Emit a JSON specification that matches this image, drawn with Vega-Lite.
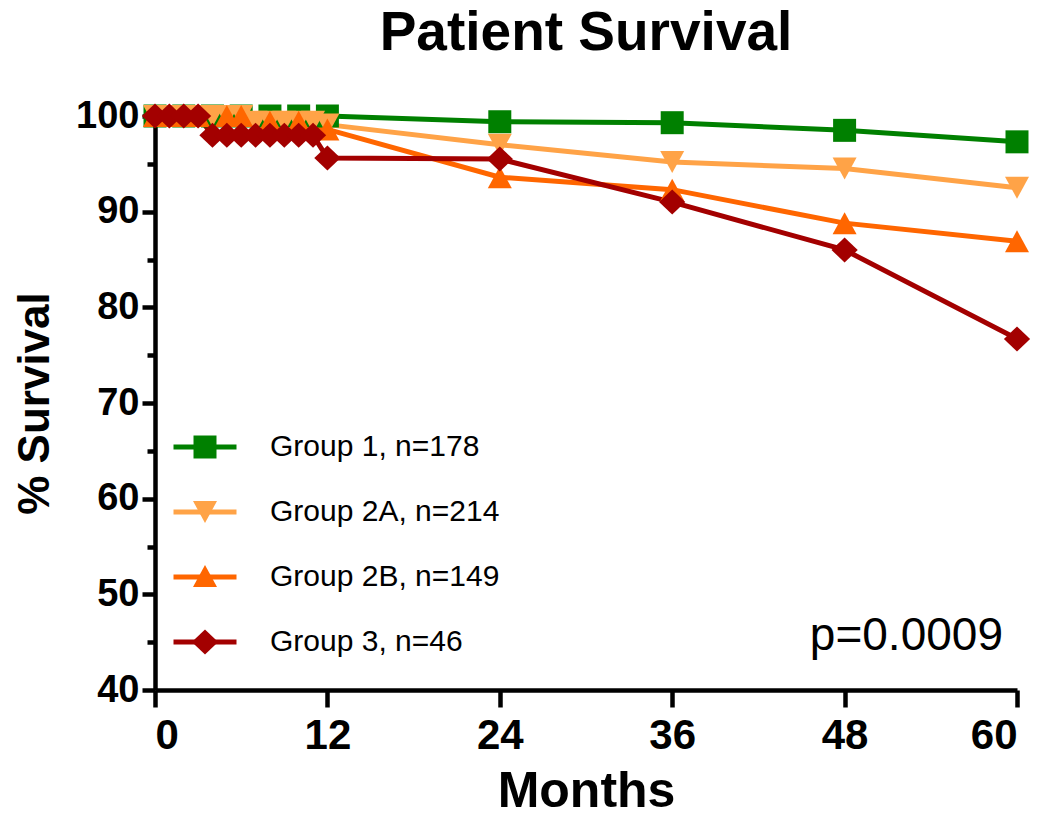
{
  "$schema": "https://vega.github.io/schema/vega-lite/v6.json",
  "width": 862,
  "height": 574,
  "autosize": "none",
  "padding": {"left": 155, "top": 116, "right": 33, "bottom": 129},
  "background": "white",
  "config": {"view": {"stroke": null}, "font": "Liberation Sans"},
  "title": {"text": "Patient Survival", "fontSize": 55, "fontWeight": "bold", "font": "Liberation Sans", "color": "black", "anchor": "middle", "frame": "group", "offset": 35},
  "data": {"values": [
    {"group": "Group 1, n=178", "month": 0, "surv": 100},
    {"group": "Group 1, n=178", "month": 2, "surv": 100},
    {"group": "Group 1, n=178", "month": 4, "surv": 100},
    {"group": "Group 1, n=178", "month": 6, "surv": 100},
    {"group": "Group 1, n=178", "month": 8, "surv": 100},
    {"group": "Group 1, n=178", "month": 10, "surv": 100},
    {"group": "Group 1, n=178", "month": 12, "surv": 100},
    {"group": "Group 1, n=178", "month": 24, "surv": 99.4},
    {"group": "Group 1, n=178", "month": 36, "surv": 99.3},
    {"group": "Group 1, n=178", "month": 48, "surv": 98.5},
    {"group": "Group 1, n=178", "month": 60, "surv": 97.3},
    {"group": "Group 2A, n=214", "month": 0, "surv": 100},
    {"group": "Group 2A, n=214", "month": 1, "surv": 100},
    {"group": "Group 2A, n=214", "month": 2, "surv": 100},
    {"group": "Group 2A, n=214", "month": 3, "surv": 100},
    {"group": "Group 2A, n=214", "month": 4, "surv": 100},
    {"group": "Group 2A, n=214", "month": 5, "surv": 100},
    {"group": "Group 2A, n=214", "month": 6, "surv": 100},
    {"group": "Group 2A, n=214", "month": 7, "surv": 99.4},
    {"group": "Group 2A, n=214", "month": 8, "surv": 99.4},
    {"group": "Group 2A, n=214", "month": 9, "surv": 99.4},
    {"group": "Group 2A, n=214", "month": 10, "surv": 99.4},
    {"group": "Group 2A, n=214", "month": 11, "surv": 99.4},
    {"group": "Group 2A, n=214", "month": 12, "surv": 99.1},
    {"group": "Group 2A, n=214", "month": 24, "surv": 97.0},
    {"group": "Group 2A, n=214", "month": 36, "surv": 95.2},
    {"group": "Group 2A, n=214", "month": 48, "surv": 94.5},
    {"group": "Group 2A, n=214", "month": 60, "surv": 92.5},
    {"group": "Group 2B, n=149", "month": 0, "surv": 100},
    {"group": "Group 2B, n=149", "month": 1, "surv": 100},
    {"group": "Group 2B, n=149", "month": 2, "surv": 100},
    {"group": "Group 2B, n=149", "month": 3, "surv": 100},
    {"group": "Group 2B, n=149", "month": 5, "surv": 100},
    {"group": "Group 2B, n=149", "month": 6, "surv": 100},
    {"group": "Group 2B, n=149", "month": 8, "surv": 99.4},
    {"group": "Group 2B, n=149", "month": 10, "surv": 99.4},
    {"group": "Group 2B, n=149", "month": 12, "surv": 98.6},
    {"group": "Group 2B, n=149", "month": 24, "surv": 93.6},
    {"group": "Group 2B, n=149", "month": 36, "surv": 92.3},
    {"group": "Group 2B, n=149", "month": 48, "surv": 88.8},
    {"group": "Group 2B, n=149", "month": 60, "surv": 86.9},
    {"group": "Group 3, n=46", "month": 0, "surv": 100},
    {"group": "Group 3, n=46", "month": 1, "surv": 100},
    {"group": "Group 3, n=46", "month": 2, "surv": 100},
    {"group": "Group 3, n=46", "month": 3, "surv": 100},
    {"group": "Group 3, n=46", "month": 4, "surv": 98.0},
    {"group": "Group 3, n=46", "month": 5, "surv": 98.0},
    {"group": "Group 3, n=46", "month": 6, "surv": 98.0},
    {"group": "Group 3, n=46", "month": 7, "surv": 98.0},
    {"group": "Group 3, n=46", "month": 8, "surv": 98.0},
    {"group": "Group 3, n=46", "month": 9, "surv": 98.0},
    {"group": "Group 3, n=46", "month": 10, "surv": 98.0},
    {"group": "Group 3, n=46", "month": 11, "surv": 98.0},
    {"group": "Group 3, n=46", "month": 12, "surv": 95.6},
    {"group": "Group 3, n=46", "month": 24, "surv": 95.5},
    {"group": "Group 3, n=46", "month": 36, "surv": 91.0},
    {"group": "Group 3, n=46", "month": 48, "surv": 86.0},
    {"group": "Group 3, n=46", "month": 60, "surv": 76.7}
  ]},
  "layer": [
    {
      "mark": {"type": "line", "strokeWidth": 5},
      "encoding": {
        "x": {"field": "month", "type": "quantitative",
          "scale": {"domain": [0, 60], "nice": false, "zero": false},
          "axis": {"values": [0, 12, 24, 36, 48, 60], "title": "Months", "grid": false,
            "domainColor": "black", "domainWidth": 4.5, "tickColor": "black", "tickWidth": 4.5, "tickSize": 17,
            "labelFont": "Liberation Sans", "labelFontSize": 42, "labelFontWeight": "bold", "labelColor": "black", "labelPadding": 8,
            "titleFont": "Liberation Sans", "titleFontSize": 50, "titleFontWeight": "bold", "titleColor": "black", "titlePadding": 10}},
        "y": {"field": "surv", "type": "quantitative",
          "scale": {"domain": [40, 100], "nice": false, "zero": false},
          "axis": {"values": [40, 45, 50, 55, 60, 65, 70, 75, 80, 85, 90, 95, 100], "title": "% Survival", "grid": false,
            "labelExpr": "datum.value % 10 === 0 ? datum.label : ''",
            "domainColor": "black", "domainWidth": 4.5, "tickColor": "black", "tickWidth": 4.5,
            "tickSize": {"condition": {"test": "datum.value % 10 === 0", "value": 13}, "value": 8},
            "labelFont": "Liberation Sans", "labelFontSize": 38, "labelFontWeight": "bold", "labelColor": "black", "labelPadding": 3,
            "titleFont": "Liberation Sans", "titleFontSize": 44, "titleFontWeight": "bold", "titleColor": "black", "titlePadding": 18}},
        "stroke": {"field": "group", "type": "nominal",
          "scale": {"range": ["#008000", "#FFA347", "#FF6600", "#A30000"]},
          "legend": {"orient": "none", "legendX": 35, "legendY": 316, "title": null, "padding": 0,
            "symbolType": "M-2.52,0H2.52", "symbolSize": 625, "symbolStrokeWidth": 5,
            "rowPadding": 35, "labelOffset": 50, "labelFont": "Liberation Sans", "labelFontSize": 30, "labelColor": "black", "labelLimit": 400, "zindex": 1}}
      }
    },
    {
      "mark": {"type": "point", "filled": true, "opacity": 1, "size": 625, "strokeWidth": 0},
      "encoding": {
        "x": {"field": "month", "type": "quantitative"},
        "y": {"field": "surv", "type": "quantitative"},
        "fill": {"field": "group", "type": "nominal",
          "scale": {"domain": ["Group 1, n=178", "Group 2A, n=214", "Group 2B, n=149", "Group 3, n=46"], "range": ["#008000", "#FFA347", "#FF6600", "#A30000"]},
          "legend": {"orient": "none", "legendX": 35, "legendY": 316, "title": null, "padding": 0,
            "symbolSize": 625, "symbolStrokeWidth": 5, "symbolStrokeColor": "transparent", "symbolOpacity": 1,
            "rowPadding": 22, "labelOffset": 50, "labelExpr": "''", "labelFont": "Liberation Sans", "labelFontSize": 30, "labelColor": "black", "labelLimit": 400, "zindex": 2}},
        "shape": {"field": "group", "type": "nominal",
          "scale": {"domain": ["Group 1, n=178", "Group 2A, n=214", "Group 2B, n=149", "Group 3, n=46"], "range": ["M-0.92,-0.92H0.92V0.92H-0.92Z", "M-0.96,-0.88L0.96,-0.88L0,0.88Z", "M0,-0.88L0.96,0.88L-0.96,0.88Z", "M-1.05,0L0,-1L1.05,0L0,1Z"]},
          "legend": {"orient": "none", "legendX": 35, "legendY": 316, "title": null, "padding": 0,
            "symbolSize": 625, "symbolStrokeWidth": 5, "symbolStrokeColor": "transparent", "symbolOpacity": 1,
            "rowPadding": 22, "labelOffset": 50, "labelExpr": "''", "labelFont": "Liberation Sans", "labelFontSize": 30, "labelColor": "black", "labelLimit": 400, "zindex": 2}}
      }
    },
    {
      "data": {"values": [{"label": "p=0.0009"}]},
      "mark": {"type": "text", "align": "right", "baseline": "alphabetic", "font": "Liberation Sans", "fontSize": 46, "fill": "black", "dx": -14},
      "encoding": {
        "x": {"datum": 60, "type": "quantitative"},
        "y": {"datum": 44.2, "type": "quantitative"},
        "text": {"field": "label", "type": "nominal"}
      }
    }
  ]
}
